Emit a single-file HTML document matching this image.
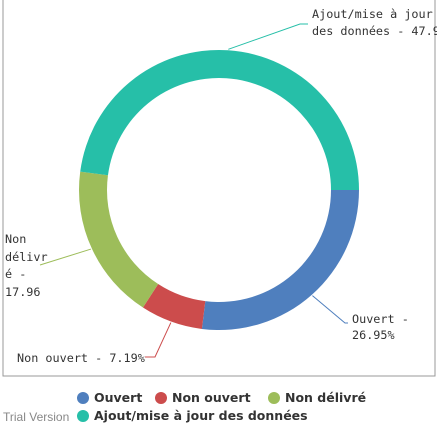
<!DOCTYPE html>
<html><head><meta charset="utf-8"><style>
body{margin:0;width:437px;height:427px;background:#fff;overflow:hidden;font-family:"Liberation Sans",sans-serif}
svg{position:absolute;left:0;top:0}
</style></head><body>
<svg id="chart" width="437" height="427">
<rect x="3" y="-2" width="432" height="378" fill="none" stroke="#999" stroke-width="1"/>
<g id="slices"></g>
<g id="labels" font-family="DejaVu Sans Mono, monospace" font-size="11.8" fill="#333"></g>
<g id="legend" font-family="DejaVu Sans, sans-serif" font-size="12.5" font-weight="bold" fill="#333"></g>
<text x="3" y="421" font-size="12" fill="#888">Trial Version</text>
</svg>
<script>
const categories=["Ouvert","Non ouvert","Non délivré","Ajout/mise à jour des données"];
const values=[26.95,7.19,17.96,47.9];
const colors=["#4f7fbe","#cc4c4c","#9dbd5a","#26bfa8"];
const NS="http://www.w3.org/2000/svg";
const cx=219,cy=190,R=140,r=112;
const total=values.reduce((a,b)=>a+b,0);
function pt(a,rad){return [cx+rad*Math.sin(a),cy-rad*Math.cos(a)];}
const sl=document.getElementById('slices');
let a0=Math.PI/2;
const mids=[];
values.forEach((v,i)=>{
  const a1=a0+v/total*2*Math.PI;
  const [x0,y0]=pt(a0,R),[x1,y1]=pt(a1,R),[x2,y2]=pt(a1,r),[x3,y3]=pt(a0,r);
  const lg=(a1-a0)>Math.PI?1:0;
  const p=document.createElementNS(NS,'path');
  p.setAttribute('d',`M${x0},${y0}A${R},${R} 0 ${lg} 1 ${x1},${y1}L${x2},${y2}A${r},${r} 0 ${lg} 0 ${x3},${y3}Z`);
  p.setAttribute('fill',colors[i]);
  
  
  sl.appendChild(p);
  mids.push((a0+a1)/2);
  a0=a1;
});
const lab=document.getElementById('labels');
const specs=[
 {lines:["Ouvert -","26.95%"],tx:352,ty:[323,339],knee:[345,323]},
 {lines:["Non ouvert - 7.19%"],tx:17,ty:[362],knee:[155,357]},
 {lines:["Non","délivr","é -","17.96"],tx:5,ty:[243,261,278,296],knee:[40,265]},
 {lines:["Ajout/mise à jour","des données - 47.9"],tx:312,ty:[18,35],knee:[300,24]}
];
specs.forEach((s,i)=>{
  const [sx,sy]=pt(mids[i],R+1);
  const endx=i==1?145:(i==2?40:s.tx-4);
  const l=document.createElementNS(NS,'polyline');
  l.setAttribute('points',`${sx},${sy} ${s.knee[0]},${s.knee[1]} ${endx},${s.knee[1]}`);
  l.setAttribute('fill','none');l.setAttribute('stroke',colors[i]);
  
  
  lab.appendChild(l);
  s.lines.forEach((t,j)=>{
    const e=document.createElementNS(NS,'text');
    e.setAttribute('x',s.tx);e.setAttribute('y',s.ty[j]);e.textContent=t;
    
    
    lab.appendChild(e);
  });
});
const lg=document.getElementById('legend');
const lpos=[[77,402],[155,402],[268,402],[77,420]];
categories.forEach((c,i)=>{
  const g=document.createElementNS(NS,'g');
  
  
  const ci=document.createElementNS(NS,'circle');
  ci.setAttribute('cx',lpos[i][0]+6);ci.setAttribute('cy',lpos[i][1]-4);ci.setAttribute('r',6);ci.setAttribute('fill',colors[i]);
  const t=document.createElementNS(NS,'text');
  t.setAttribute('x',lpos[i][0]+17);t.setAttribute('y',lpos[i][1]);t.textContent=c;
  g.appendChild(ci);g.appendChild(t);lg.appendChild(g);
});
</script>
</body></html>
